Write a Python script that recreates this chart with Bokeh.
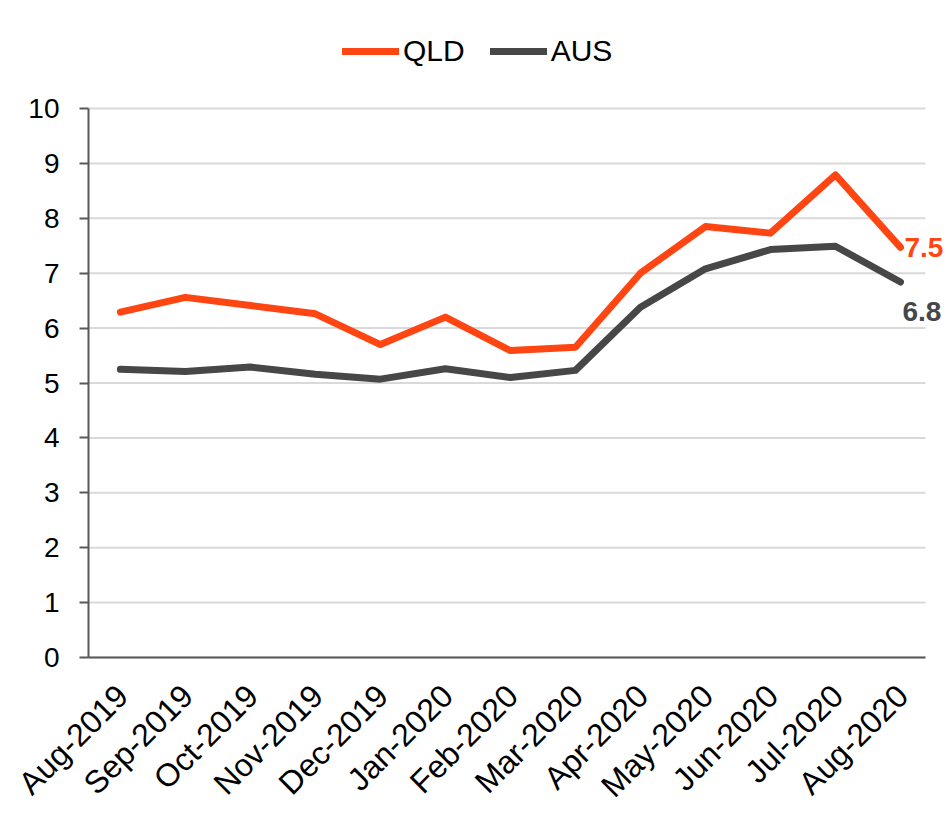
import math
from bokeh.plotting import figure
from bokeh.models import Range1d, FixedTicker, Legend, LegendItem, ColumnDataSource
from bokeh.core.properties import value
from bokeh.embed import file_html
from bokeh.resources import INLINE

months = ["Aug-2019", "Sep-2019", "Oct-2019", "Nov-2019", "Dec-2019", "Jan-2020",
          "Feb-2020", "Mar-2020", "Apr-2020", "May-2020", "Jun-2020", "Jul-2020", "Aug-2020"]
qld = [6.29, 6.56, 6.41, 6.26, 5.70, 6.20, 5.59, 5.65, 7.00, 7.85, 7.73, 8.79, 7.47]
aus = [5.25, 5.21, 5.29, 5.16, 5.07, 5.26, 5.10, 5.23, 6.38, 7.08, 7.43, 7.49, 6.84]
y_ticks = [0, 1, 2, 3, 4, 5, 6, 7, 8, 9, 10]
y_tick_labels = [str(t) for t in y_ticks]

ORANGE = "#FF4612"
GREY = "#474747"
AXIS = "#595959"
GRID = "#D9D9D9"
FONT = "Liberation Sans"

idx = list(range(len(months)))

# canvas / chart-area geometry in pixels
W, H = 944, 809
FRAME_L = 12                                     # frame starts near the left edge
CH_L, CH_R, CH_T, CH_B = 88, 925, 108, 657      # visible chart area
X0, X1 = -0.49, len(months) - 1 + 0.385
Y0, Y1 = 0, 10
px_x = (CH_R - CH_L) / (X1 - X0)
px_y = (CH_B - CH_T) / (Y1 - Y0)
x_start = X0 - (CH_L - FRAME_L) / px_x
x_end = X0 + (W - CH_L) / px_x
y_start = Y0 - (H - CH_B) / px_y
y_end = Y0 + CH_B / px_y

p = figure(width=W, height=H, output_backend="svg", toolbar_location=None,
           x_range=Range1d(x_start, x_end), y_range=Range1d(y_start, y_end),
           min_border_left=FRAME_L, min_border_right=0, min_border_top=0,
           min_border_bottom=0)
p.outline_line_color = None
p.background_fill_color = "white"
p.border_fill_color = "white"
p.xgrid.grid_line_color = None
p.ygrid.grid_line_color = None

# horizontal gridlines at the y ticks, limited to the chart area
p.segment(x0=[X0] * len(y_ticks), x1=[X1] * len(y_ticks), y0=y_ticks, y1=y_ticks,
          line_color=GRID, line_width=2)

src = ColumnDataSource(dict(x=idx, qld=qld, aus=aus))
r_q = p.line("x", "qld", source=src, line_color=ORANGE, line_width=7,
             line_cap="round", line_join="round")
r_a = p.line("x", "aus", source=src, line_color=GREY, line_width=7,
             line_cap="round", line_join="round")

# end labels
p.text(x=[idx[-1]], y=[qld[-1]], text=[f"{qld[-1]:.1f}"], text_color=ORANGE,
       text_font=value(FONT), text_font_size="28px", text_font_style="bold",
       text_align="left", text_baseline="middle", x_offset=4, y_offset=0)
p.text(x=[idx[-1]], y=[aus[-1]], text=[f"{aus[-1]:.1f}"], text_color=GREY,
       text_font=value(FONT), text_font_size="28px", text_font_style="bold",
       text_align="left", text_baseline="middle", x_offset=2, y_offset=30)

# category labels (rotated), placed at y=0 through the scales
p.text(x=idx, y=[Y0] * len(idx), text=months, angle=math.pi / 4,
       text_font=value(FONT), text_font_size="32px", text_color="black",
       text_align="right", text_baseline="middle", x_offset=2, y_offset=33)

# value labels for the y axis, placed at x=X0 through the scales
p.text(x=[X0] * len(y_ticks), y=y_ticks, text=y_tick_labels,
       text_font=value(FONT), text_font_size="28px", text_color="black",
       text_align="right", text_baseline="middle", x_offset=-29, y_offset=0)

# x axis: line only, fixed at y=0
p.xaxis.ticker = FixedTicker(ticks=[])
p.xaxis.fixed_location = Y0
p.xaxis.bounds = (X0, X1)
p.xaxis.major_tick_line_color = None
p.xaxis.minor_tick_line_color = None
p.xaxis.major_tick_out = 0
p.xaxis.major_label_standoff = 0
p.xaxis.axis_line_color = AXIS
p.xaxis.axis_line_width = 2

# y axis: line + outward ticks, fixed at x=X0
p.yaxis.ticker = FixedTicker(ticks=y_ticks)
p.yaxis.fixed_location = X0
p.yaxis.bounds = (Y0, Y1)
p.yaxis.major_label_overrides = {t: "" for t in y_ticks}
p.yaxis.major_label_standoff = 0
p.yaxis.axis_line_color = AXIS
p.yaxis.axis_line_width = 2
p.yaxis.major_tick_line_color = AXIS
p.yaxis.major_tick_line_width = 2
p.yaxis.major_tick_out = 9
p.yaxis.major_tick_in = 0
p.yaxis.minor_tick_line_color = None

legend = Legend(items=[LegendItem(label="QLD", renderers=[r_q]),
                       LegendItem(label="AUS", renderers=[r_a])],
                orientation="horizontal", location=(CH_L - FRAME_L + 254, H - 68),
                glyph_width=57, glyph_height=30, label_standoff=4, spacing=25,
                padding=0, margin=0, border_line_color=None,
                background_fill_alpha=0,
                label_text_font=FONT, label_text_font_size="30px",
                label_text_color="black", label_height=30)
p.add_layout(legend, "center")

open("out.html", "w").write(file_html(p, INLINE))
